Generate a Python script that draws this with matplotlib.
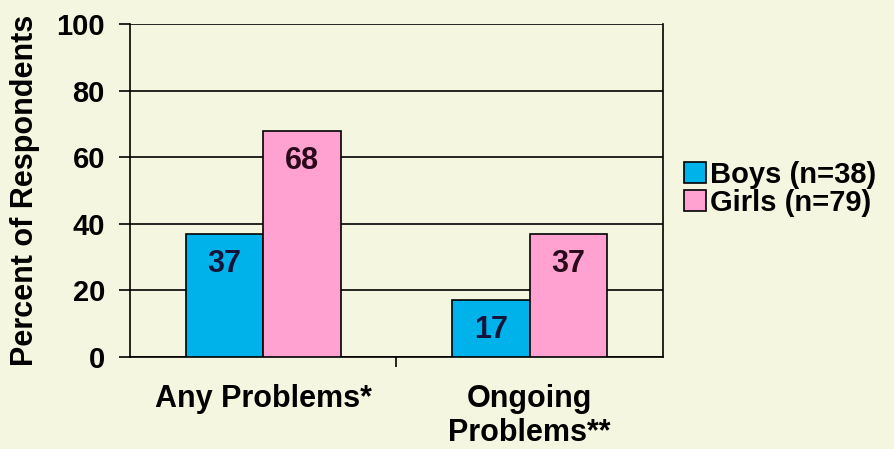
import numpy as np
import matplotlib.pyplot as plt

categories = ["Any Problems*", "Ongoing\nProblems**"]
boys = [37, 17]
girls = [68, 37]
series_labels = ["Boys (n=38)", "Girls (n=79)"]
yticks = [0, 20, 40, 60, 80, 100]

bg = "#F5F6DF"
boy_col = "#00B2EA"
girl_col = "#FFA2D2"

plt.rcParams['font.family'] = ['Liberation Sans', 'DejaVu Sans']
plt.rcParams['font.weight'] = 'bold'

fig = plt.figure(figsize=(8.94, 4.49), dpi=100, facecolor=bg)
ax = fig.add_axes([0.1454, 0.2049, 0.7416 - 0.1454, 0.9465 - 0.2049])
ax.set_facecolor(bg)

x = np.arange(len(categories))
w = 0.29
b1 = ax.bar(x - w / 2, boys, w, color=boy_col, edgecolor="black", linewidth=1.2,
            label=series_labels[0], zorder=3)
b2 = ax.bar(x + w / 2, girls, w, color=girl_col, edgecolor="black", linewidth=1.2,
            label=series_labels[1], zorder=3)

# value labels sit just inside the top of each bar
for rect, v in zip(b1, boys):
    ax.text(rect.get_x() + rect.get_width() / 2, v - 4.5, str(v), ha="center", va="top",
            fontsize=22, fontweight="bold", color="#14143a", zorder=4)
for rect, v in zip(b2, girls):
    ax.text(rect.get_x() + rect.get_width() / 2, v - 4.5, str(v), ha="center", va="top",
            fontsize=22, fontweight="bold", color="#2a0a1a", zorder=4)

ax.set_xlim(-0.5, len(categories) - 0.5)
ax.set_ylim(0, 100)
ax.set_yticks(yticks)
ax.set_yticklabels([str(t) for t in yticks], fontsize=21, fontweight="bold")
ax.yaxis.grid(True, color="black", linewidth=1.2, zorder=0)
ax.set_axisbelow(True)
ax.tick_params(axis="y", length=8, width=1.2, direction="out", pad=10)

# only a divider tick between the groups
ax.set_xticks([0.5])
ax.set_xticklabels([""])
ax.tick_params(axis="x", length=7, width=1.2, direction="out")
for xi, lab in zip(x, categories):
    ax.text(xi, -8, lab, ha="center", va="top", fontsize=22, fontweight="bold",
            transform=ax.transData, linespacing=1.18)

ax.set_ylabel("Percent of Respondents", fontsize=22, fontweight="bold", labelpad=12)

for s in ["left", "right", "bottom", "top"]:
    ax.spines[s].set_color("black")
    ax.spines[s].set_linewidth(1.2)
ax.spines["top"].set_visible(False)

leg = fig.legend(handles=[b1, b2], labels=series_labels, loc="center left",
                 bbox_to_anchor=(0.765, 0.58), frameon=False, fontsize=21,
                 handlelength=0.75, handleheight=0.75, handletextpad=0.15,
                 labelspacing=0.0, borderaxespad=0, borderpad=0)

fig.savefig("out.png", dpi=100, facecolor=bg)
